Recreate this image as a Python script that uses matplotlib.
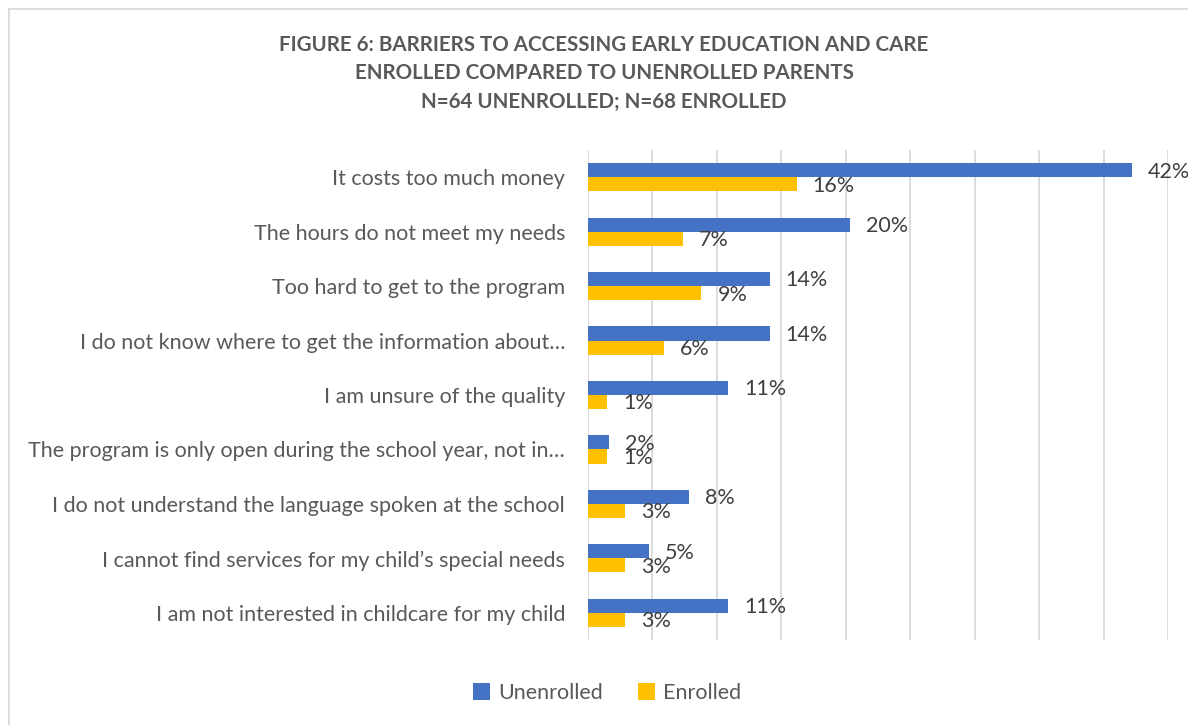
import matplotlib
matplotlib.use("Agg")
import matplotlib.pyplot as plt
from matplotlib.lines import Line2D
import numpy as np

categories = [
    "It costs too much money",
    "The hours do not meet my needs",
    "Too hard to get to the program",
    "I do not know where to get the information about\u2026",
    "I am unsure of the quality",
    "The program is only open during the school year, not in\u2026",
    "I do not understand the language spoken at the school",
    "I cannot find services for my child\u2019s special needs",
    "I am not interested in childcare for my child",
]
unenrolled = [42.2, 20.3, 14.1, 14.1, 10.9, 1.6, 7.8, 4.7, 10.9]
enrolled = [16.2, 7.4, 8.8, 5.9, 1.5, 1.5, 2.9, 2.9, 2.9]
unenrolled_labels = ["42%", "20%", "14%", "14%", "11%", "2%", "8%", "5%", "11%"]
enrolled_labels = ["16%", "7%", "9%", "6%", "1%", "1%", "3%", "3%", "3%"]
series_names = ["Unenrolled", "Enrolled"]
title_lines = [
    "FIGURE 6: BARRIERS TO ACCESSING EARLY EDUCATION AND CARE",
    "ENROLLED COMPARED TO UNENROLLED PARENTS",
    "N=64 UNENROLLED; N=68 ENROLLED",
]

BLUE = "#4472C4"
GOLD = "#FFC000"
TXT = "#595959"

plt.rcParams["font.family"] = ["Lato", "DejaVu Sans"]

W, H = 1188, 725
fig = plt.figure(figsize=(W / 100, H / 100), dpi=100)
fig.patch.set_facecolor("white")

# border
fig.add_artist(Line2D([8.5 / W, 8.5 / W], [0, 1 - 9 / H], transform=fig.transFigure,
                      color="#D9D9D9", lw=1.3))
fig.add_artist(Line2D([8.5 / W, 1], [1 - 9 / H, 1 - 9 / H], transform=fig.transFigure,
                      color="#D9D9D9", lw=1.3))

ax_left, ax_right, ax_top, ax_bot = 588, 1168, 150, 640
ax = fig.add_axes([ax_left / W, 1 - ax_bot / H, (ax_right - ax_left) / W, (ax_bot - ax_top) / H])

n = len(categories)
y = np.arange(n)
bh = 0.26
ax.barh(y - bh / 2, unenrolled, height=bh, color=BLUE, label=series_names[0], zorder=3)
ax.barh(y + bh / 2, enrolled, height=bh, color=GOLD, label=series_names[1], zorder=3)

FS = 15.5
for i in range(n):
    ax.annotate(unenrolled_labels[i], (unenrolled[i], y[i] - bh / 2), xytext=(11.5, -1),
                textcoords="offset points", va="center", ha="left", fontsize=FS,
                color="#404040", zorder=5)
    ax.annotate(enrolled_labels[i], (enrolled[i], y[i] + bh / 2), xytext=(11.5, -1),
                textcoords="offset points", va="center", ha="left", fontsize=FS,
                color="#404040", zorder=5)

ax.set_xlim(0, 45)
ax.set_ylim(n - 0.5, -0.5)
ax.set_xticks(np.arange(0, 46, 5))
ax.set_xticklabels([])
ax.tick_params(axis="x", length=0)
ax.xaxis.grid(True, color="#D9D9D9", lw=1.3, zorder=0)
ax.set_yticks(y)
ax.set_yticklabels(categories, fontsize=FS, color=TXT)
ax.tick_params(axis="y", length=0, pad=16.5)
for s in ax.spines.values():
    s.set_visible(False)

title_y = [45, 73, 102]
for t, yy in zip(title_lines, title_y):
    fig.text(604 / W, 1 - yy / H, t, ha="center", va="center", fontsize=14.8,
             fontweight="bold", color=TXT)

leg = fig.legend(loc="center", bbox_to_anchor=(607 / W, 1 - 693 / H), ncol=2, frameon=False,
                 fontsize=FS, handlelength=0.8, handleheight=0.8, handletextpad=0.4,
                 columnspacing=1.6, labelcolor=TXT)

fig.savefig("out.png", dpi=100, facecolor="white")
